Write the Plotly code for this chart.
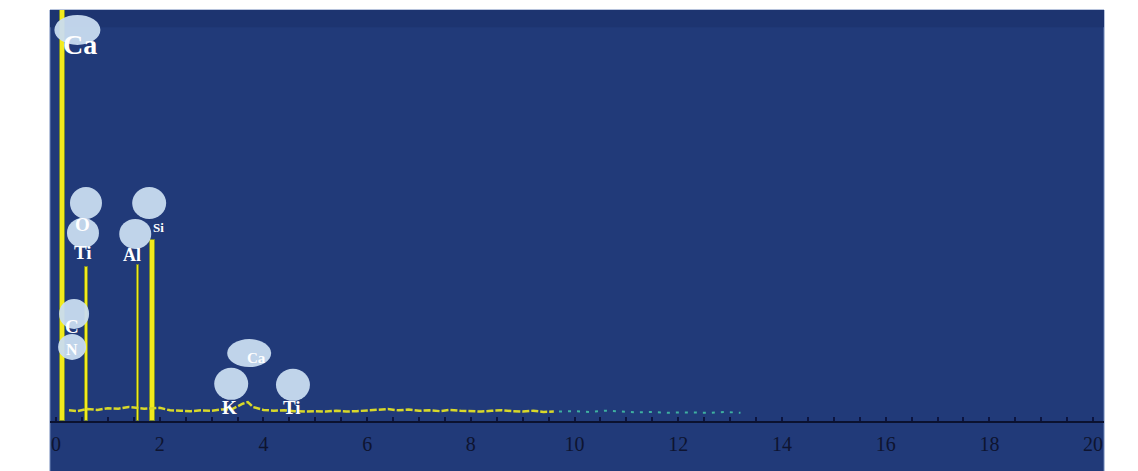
import plotly.graph_objects as go

# EDS spectrum: energy (keV) vs relative counts (% of full scale)
peak_energy = [0.12, 0.59, 1.58, 1.86]
peak_height = [100.0, 37.5, 38.0, 44.0]
peak_width = [0.09, 0.05, 0.04, 0.10]

# low-level background counts
bg_energy = [0.25, 0.4, 0.6, 0.8, 1.0, 1.2, 1.4, 1.7, 2.0, 2.2, 2.4, 2.6, 2.8, 3.0,
             3.2, 3.4, 3.6, 3.7, 3.8, 4.0, 4.2, 4.4, 4.6, 4.8, 5.0, 5.2, 5.4, 5.6,
             5.8, 6.0, 6.2, 6.4, 6.6, 6.8, 7.0, 7.2, 7.4, 7.6, 7.8, 8.0, 8.2, 8.4,
             8.6, 8.8, 9.0, 9.2, 9.4, 9.6]
bg_counts = [2.6, 2.4, 2.9, 2.7, 3.1, 3.0, 3.4, 3.0, 3.2, 2.6, 2.5, 2.4, 2.6, 2.5,
             2.8, 2.9, 4.2, 4.6, 3.4, 2.7, 2.5, 2.6, 2.4, 2.3, 2.4, 2.3, 2.5, 2.3,
             2.4, 2.6, 2.7, 2.9, 2.6, 2.8, 2.5, 2.6, 2.4, 2.7, 2.5, 2.4, 2.3, 2.5,
             2.6, 2.4, 2.3, 2.5, 2.2, 2.3]
tail_energy = [9.7, 10.0, 10.3, 10.6, 10.9, 11.2, 11.5, 11.8, 12.1, 12.6, 12.9, 13.2]
tail_counts = [2.3, 2.4, 2.2, 2.5, 2.3, 2.1, 2.2, 2.0, 2.1, 2.0, 2.2, 2.0]

# element labels: symbol, energy position, height, font size, bubble size (px)
label_text = ["Ca", "O", "Ti", "Si", "Al", "C", "N", "Ca", "K", "Ti"]
label_x = [0.47, 0.52, 0.52, 1.97, 1.47, 0.31, 0.31, 3.86, 3.34, 4.55]
label_y = [91.5, 47.7, 40.9, 47.2, 40.4, 22.9, 17.3, 15.3, 3.2, 3.2]
label_size = [28, 19, 19, 13, 18, 19, 16, 15, 19, 19]
bubble_dx = [-3, 3, 0, -9, 3, 2, 0, -7, 2, 1]
bubble_dy = [15, 22, 20, 24, 21, 13, 3, 5, 24, 23]
bubble_rx = [23, 16, 16, 17, 16, 15, 14, 22, 17, 17]
bubble_ry = [15, 16, 15, 16, 15, 15, 13, 14, 16, 16]

tick_vals = [0, 2, 4, 6, 8, 10, 12, 14, 16, 18, 20]
tick_text = [str(v) for v in tick_vals]

PANEL = "#213a79"
YELLOW = "#f2ea1c"

fig = go.Figure()

fig.add_trace(go.Scatter(
    x=bg_energy, y=bg_counts, mode="lines",
    line=dict(color="#d8d82a", width=2.5, dash="7px,2px"),
    hoverinfo="skip"))
fig.add_trace(go.Scatter(
    x=tail_energy, y=tail_counts, mode="lines",
    line=dict(color="#3fb0a0", width=2, dash="3px,6px"),
    hoverinfo="skip"))

fig.add_trace(go.Bar(
    x=peak_energy, y=peak_height, width=peak_width,
    marker=dict(color=YELLOW, line=dict(color="#7f8f2a", width=1)),
    hoverinfo="skip"))

shapes = [
    # blue panel behind the spectrum, reaching below the axis labels
    dict(type="rect", xref="paper", yref="paper", x0=0, x1=1, y0=-0.125, y1=1,
         fillcolor=PANEL, line=dict(color="#6f86b8", width=1), layer="below"),
    dict(type="rect", xref="paper", yref="paper", x0=0, x1=1, y0=0.958, y1=1,
         fillcolor="#1d3470", line=dict(width=0), layer="below"),
]
annotations = []
for t, x, y, s, dx, dy, rx, ry in zip(label_text, label_x, label_y, label_size,
                                      bubble_dx, bubble_dy, bubble_rx, bubble_ry):
    shapes.append(dict(
        type="circle", xref="x", yref="y", xsizemode="pixel", ysizemode="pixel",
        xanchor=x, yanchor=y, x0=dx - rx, x1=dx + rx, y0=dy - ry, y1=dy + ry,
        fillcolor="#c9dcf0", opacity=0.95, line=dict(width=0), layer="above"))
    annotations.append(dict(
        x=x, y=y, xref="x", yref="y", text="<b>" + t + "</b>", showarrow=False,
        font=dict(family="Liberation Serif", size=s, color="#ffffff")))

fig.update_layout(
    width=1138, height=471,
    margin=dict(l=50, r=34, t=10, b=50),
    paper_bgcolor="#ffffff", plot_bgcolor="rgba(0,0,0,0)",
    showlegend=False, bargap=0,
    shapes=shapes, annotations=annotations,
    xaxis=dict(range=[-0.116, 20.21], showgrid=False, zeroline=False,
               showline=True, linecolor="#0b1230", linewidth=2,
               tickmode="array", tickvals=tick_vals, ticktext=tick_text,
               ticks="", ticklabelstandoff=4,
               tickfont=dict(family="Liberation Serif", size=20, color="#0e1430"),
               minor=dict(dtick=0.5, ticks="inside", ticklen=4, tickwidth=2,
                          tickcolor="#0d1540")),
    yaxis=dict(range=[0, 100], visible=False, showgrid=False, zeroline=False),
)

fig.write_html("out.html")
